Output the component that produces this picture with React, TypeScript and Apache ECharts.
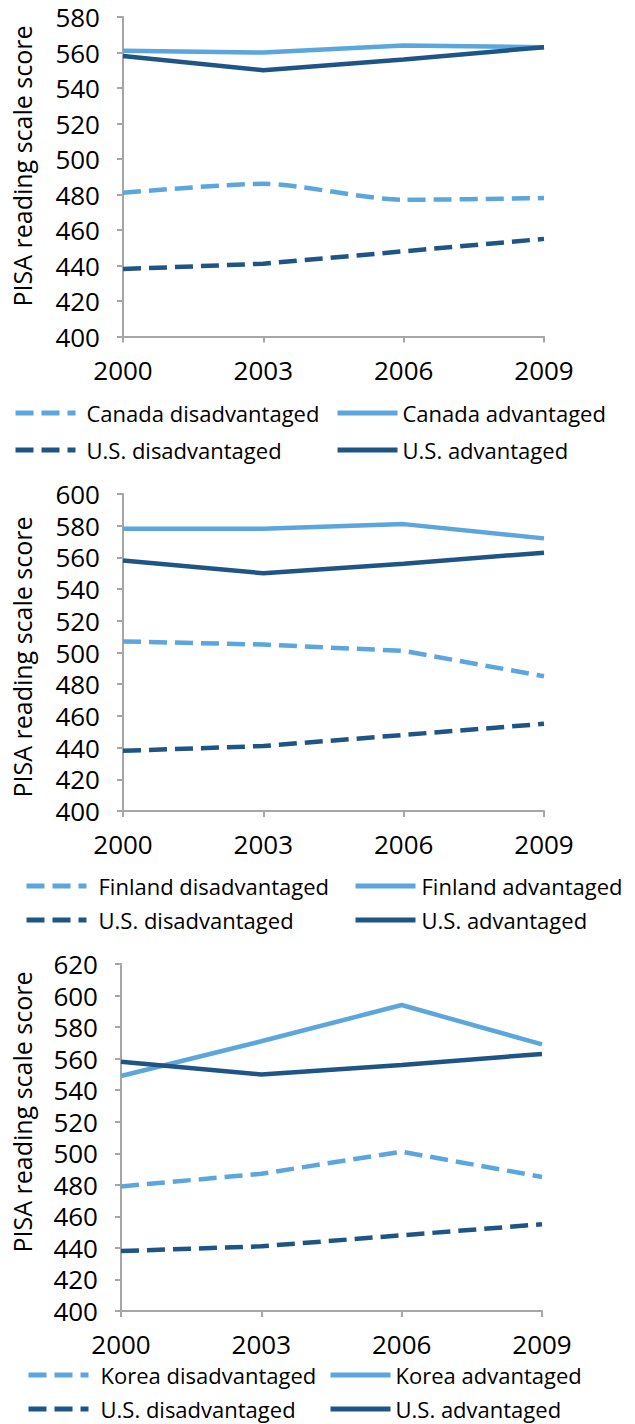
import React, { useEffect, useRef } from "react";
import * as echarts from "echarts";

const years = ["2000", "2003", "2006", "2009"];
const usDisadvantaged = [438, 441, 448, 455];
const usAdvantaged = [558, 550, 556, 563];
const canadaDisadvantaged = [481, 486, 477, 478];
const canadaAdvantaged = [561, 560, 564, 563];
const finlandDisadvantaged = [507, 505, 501, 485];
const finlandAdvantaged = [578, 578, 581, 572];
const koreaDisadvantaged = [479, 487, 501, 485];
const koreaAdvantaged = [549, 571, 594, 569];
const countries = ["Canada", "Finland", "Korea"];
const yMaxes = [580, 600, 620];
const yMin = 400;
const yStep = 20;
const yTitle = "PISA reading scale score";

const LIGHT = "#5ba6dc";
const DARK = "#1f5585";
const FONT = "'Open Sans', sans-serif";

export default function App() {
  const ref = useRef<HTMLDivElement>(null);
  useEffect(() => {
    if (!ref.current) return;
    const chart = echarts.init(ref.current, null, { renderer: "svg" });

    const countryDis = [canadaDisadvantaged, finlandDisadvantaged, koreaDisadvantaged];
    const countryAdv = [canadaAdvantaged, finlandAdvantaged, koreaAdvantaged];

    const layout = [
      { top: 17, bottom: 336.5, left: 123, right: 91, titleY: 166,
        legTop: 402, legGap: 15, lLeft: 13, lPad: 6, rLeft: 335, rPad: 0 },
      { top: 494, bottom: 811, left: 123, right: 91, titleY: 657,
        legTop: 875, legGap: 12, lLeft: 24, lPad: 7, rLeft: 353, rPad: 1 },
      { top: 964, bottom: 1311, left: 121, right: 93, titleY: 1112,
        legTop: 1364, legGap: 12, lLeft: 26, lPad: 7, rLeft: 328, rPad: 0 },
    ];

    const grids: any[] = [];
    const xAxes: any[] = [];
    const yAxes: any[] = [];
    const series: any[] = [];
    const legends: any[] = [];
    const graphics: any[] = [];

    const axisColor = "#a6a6a6";
    const dash = [18, 8];
    const textColor = "#000";

    countries.forEach((c, i) => {
      const L = layout[i];
      grids.push({ left: L.left, right: L.right, top: L.top, height: L.bottom - L.top });
      xAxes.push({
        type: "category", gridIndex: i, data: years, boundaryGap: false,
        axisLine: { lineStyle: { color: axisColor, width: 2 } },
        axisTick: { length: 6, lineStyle: { color: axisColor, width: 2 } },
        axisLabel: { color: textColor, fontSize: 26, fontFamily: FONT, margin: 20, lineHeight: 26 },
        splitLine: { show: false },
      });
      yAxes.push({
        type: "value", gridIndex: i, min: yMin, max: yMaxes[i], interval: yStep,
        axisLine: { show: true, lineStyle: { color: axisColor, width: 2 } },
        axisTick: { show: true, length: 6, lineStyle: { color: axisColor, width: 2 } },
        axisLabel: { color: textColor, fontSize: 26, fontFamily: FONT, margin: 23, lineHeight: 26 },
        splitLine: { show: false },
      });
      const mk = (name: string, data: number[], color: string, dashed: boolean, smooth = false) => ({
        type: "line", name, data, xAxisIndex: i, yAxisIndex: i,
        symbol: "none", smooth: smooth ? 0.25 : false,
        lineStyle: { color, width: 4.5, type: dashed ? dash : "solid", cap: "butt" },
        itemStyle: { color },
      });
      series.push(mk(`${c} disadvantaged`, countryDis[i], LIGHT, true, i === 0));
      series.push(mk("U.S. disadvantaged", usDisadvantaged, DARK, true));
      series.push(mk(`${c} advantaged`, countryAdv[i], LIGHT, false));
      series.push(mk("U.S. advantaged", usAdvantaged, DARK, false));

      const legBase = {
        orient: "vertical", top: L.legTop, itemGap: L.legGap, padding: 0,
        itemWidth: 60, itemHeight: 4, selectedMode: false,
        itemStyle: { opacity: 0 },
        lineStyle: { width: 5 },
      };
      legends.push({
        ...legBase, left: L.lLeft,
        data: [`${c} disadvantaged`, "U.S. disadvantaged"],
        textStyle: { fontSize: 22, fontFamily: FONT, color: textColor, lineHeight: 20, padding: [0, 0, 0, L.lPad] },
      });
      legends.push({
        ...legBase, left: L.rLeft,
        data: [`${c} advantaged`, "U.S. advantaged"],
        textStyle: { fontSize: 22, fontFamily: FONT, color: textColor, lineHeight: 20, padding: [0, 0, 0, L.rPad] },
      });
      graphics.push({
        type: "text", x: 22, y: L.titleY, rotation: Math.PI / 2,
        style: { text: yTitle, fill: textColor, font: `25px ${FONT}`, align: "center", verticalAlign: "middle" },
      });
    });

    chart.setOption({
      animation: false,
      backgroundColor: "#fff",
      grid: grids,
      xAxis: xAxes,
      yAxis: yAxes,
      series,
      legend: legends,
      graphic: graphics,
    });
    return () => chart.dispose();
  }, []);
  return (
    <div
      ref={ref}
      style={{ position: "absolute", left: 0, top: 0, width: 635, height: 1424 }}
    />
  );
}
